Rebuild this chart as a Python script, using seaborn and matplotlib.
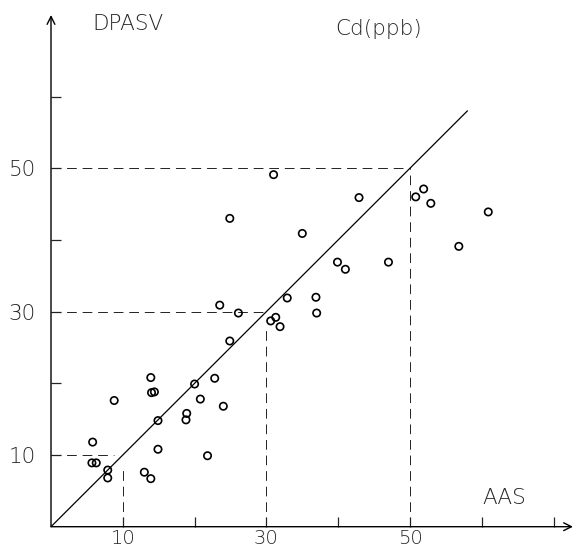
import matplotlib
matplotlib.use("Agg")
import matplotlib.pyplot as plt
import seaborn as sns
import pandas as pd

# --- data ---
aas = [5.8, 5.7, 6.3, 7.9, 7.9, 13.0, 13.9, 14.9, 14.9, 18.9, 18.8, 13.9, 14.0, 14.4,
       8.8, 20.0, 20.8, 21.8, 22.8, 24.0, 24.9, 23.5, 26.1, 24.9, 30.6, 31.3, 31.9,
       32.9, 31.0, 35.0, 36.9, 37.0, 39.9, 41.0, 42.9, 47.0, 50.8, 51.9, 52.9, 56.8, 60.9]
dpasv = [11.8, 8.9, 8.9, 7.9, 6.8, 7.6, 6.7, 10.8, 14.8, 15.8, 14.9, 20.8, 18.7, 18.8,
         17.6, 19.9, 17.8, 9.9, 20.7, 16.8, 25.9, 30.9, 29.8, 43.0, 28.7, 29.2, 27.9,
         31.9, 49.1, 40.9, 32.0, 29.8, 36.9, 35.9, 45.9, 36.9, 46.0, 47.1, 45.1, 39.1, 43.9]
line_x = [0, 58]
line_y = [0, 58]
ref_levels = [10, 30, 50]
ref_stop_h = [8.8, 29.5, 50]   # where horizontal dashed guides end (x)
ref_stop_v = [8.6, 27.4, 50]   # where vertical dashed guides end (y)
xticks = [10, 20, 30, 40, 50, 60, 70]
xticklabels = ["10", "", "30", "", "50", "", ""]
yticks = [10, 20, 30, 40, 50, 60]
yticklabels = ["10", "", "30", "", "50", ""]
title_y = "DPASV"
title_x = "AAS"
title_unit = "Cd(ppb)"

sns.set_style("white")
plt.rcParams["font.family"] = ["DejaVu Sans"]

W, H = 575, 550
fig = plt.figure(figsize=(W / 100, H / 100), dpi=100)
ox, oy = 51, 23.3
xmax, ymax = (573 - ox) / 7.18, (550 - 15 - oy) / 7.17
ax = fig.add_axes([ox / W, oy / H, (573 - ox) / W, (550 - 15 - oy) / H])
ax.set_xlim(0, xmax)
ax.set_ylim(0, ymax)

df = pd.DataFrame({"AAS": aas, "DPASV": dpasv})
sns.scatterplot(data=df, x="AAS", y="DPASV", ax=ax, marker="o", s=28,
                facecolor="none", edgecolor="black", linewidth=1.2, zorder=4)
sns.lineplot(x=line_x, y=line_y, ax=ax, color="black", linewidth=0.9, zorder=3)

for lv, hs, vs in zip(ref_levels, ref_stop_h, ref_stop_v):
    ax.plot([0, hs], [lv, lv], color="#222222", linewidth=0.7, dashes=(10, 6))
    ax.plot([lv, lv], [0, vs], color="#222222", linewidth=0.7, dashes=(10, 6))

for s in ["top", "right", "left", "bottom"]:
    ax.spines[s].set_visible(False)

# axes with open arrow heads
ax.annotate("", xy=(xmax, 0), xytext=(0, 0), xycoords="data",
            arrowprops=dict(arrowstyle="->", color="black", lw=1.0,
                            shrinkA=0, shrinkB=0, mutation_scale=14), annotation_clip=False)
ax.annotate("", xy=(0, ymax), xytext=(0, 0), xycoords="data",
            arrowprops=dict(arrowstyle="->", color="black", lw=1.0,
                            shrinkA=0, shrinkB=0, mutation_scale=14), annotation_clip=False)

ax.set_xticks(xticks)
ax.set_xticklabels(xticklabels)
ax.set_yticks(yticks)
ax.set_yticklabels(yticklabels)
ax.tick_params(axis="x", direction="in", length=7, width=0.9, pad=1.5, labelsize=14,
               bottom=True)
ax.tick_params(axis="y", direction="in", length=7, width=0.9, pad=11, labelsize=15.5,
               left=True)
for lab in ax.get_xticklabels() + ax.get_yticklabels():
    lab.set_fontweight("light")
ax.set_xlabel("")
ax.set_ylabel("")

ax.text(10.7, 70.1, title_y, ha="center", va="center", fontsize=15.5, fontweight="light")
ax.text(45.6, 69.4, title_unit, ha="center", va="center", fontsize=15.5, fontweight="light")
ax.text(63.1, 4.0, title_x, ha="center", va="center", fontsize=15.5, fontweight="light")

fig.savefig("out.png", dpi=100)
